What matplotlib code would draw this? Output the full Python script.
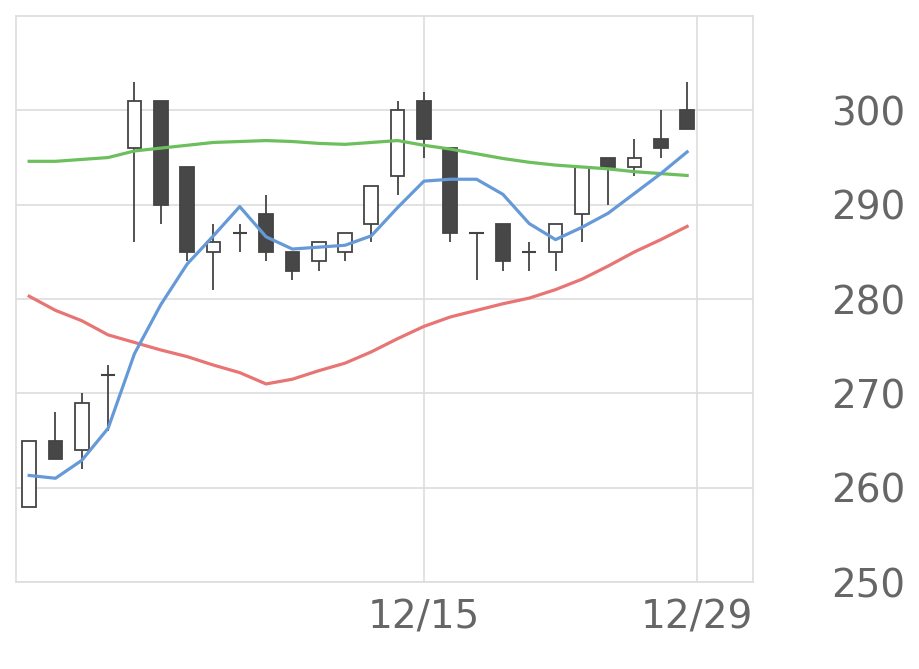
import matplotlib
matplotlib.use("Agg")
import matplotlib.pyplot as plt

opens  = [258,265,264,272,296,301,294,285,287,289,285,284,285,288,293,301,296,287,288,285,285,289,295,294,297,300]
closes = [265,263,269,272,301,290,285,286,287,285,283,286,287,292,300,297,287,287,284,285,288,294,294,295,296,298]
highs  = [265,268,270,273,303,301,294,288,288,291,285,286,287,292,301,302,296,287,288,286,288,294,295,297,300,303]
lows   = [258,263,262,266,286,288,284,281,285,284,282,283,284,286,291,295,286,282,283,283,283,286,290,293,295,298]
ma_short = [261.3,261,262.9,266.3,274.2,279.4,283.7,286.7,289.8,286.6,285.3,285.5,285.7,286.7,289.7,292.5,292.7,292.7,291.1,288,286.3,287.6,289.1,291.2,293.3,295.6]
ma_mid = [280.3,278.8,277.7,276.2,275.4,274.6,273.9,273,272.2,271,271.5,272.4,273.2,274.4,275.8,277.1,278.1,278.8,279.5,280.1,281,282.1,283.5,285,286.3,287.7]
ma_long = [294.6,294.6,294.8,295,295.7,296,296.3,296.6,296.7,296.8,296.7,296.5,296.4,296.6,296.8,296.3,295.9,295.4,294.9,294.5,294.2,294,293.8,293.5,293.3,293.1]
xtick_pos = [15, 25.36]
xtick_labels = ["12/15", "12/29"]
yticks = [250, 260, 270, 280, 290, 300]

fig = plt.figure(figsize=(9.2, 6.69), dpi=100)
ax = fig.add_axes([0.0174, 0.130, 0.801, 0.846])
x = list(range(len(opens)))
for i in x:
    o, c, h, l = opens[i], closes[i], highs[i], lows[i]
    ax.vlines(i, l, h, color="#444444", lw=1.3, zorder=2)
    lo, hi = min(o, c), max(o, c)
    fc = "white" if c >= o else "#474747"
    if hi - lo < 0.3:
        ax.hlines(o, i - 0.27, i + 0.27, color="#444444", lw=1.5, zorder=3)
    else:
        ax.bar(i, hi - lo, bottom=lo, width=0.52, facecolor=fc, edgecolor="#444444", lw=1.3, zorder=3)
ax.plot(x, ma_mid, color="#e87474", lw=2.3, zorder=4)
ax.plot(x, ma_long, color="#6cbf5c", lw=2.3, zorder=4)
ax.plot(x, ma_short, color="#6699d8", lw=2.3, zorder=4)

ax.set_xlim(-0.5, 27.5)
ax.set_ylim(250, 310)
ax.set_yticks(yticks)
ax.set_xticks(xtick_pos)
ax.set_xticklabels(xtick_labels)
ax.yaxis.tick_right()
ax.tick_params(axis="y", length=0, pad=56, labelsize=28, labelcolor="#666666")
ax.tick_params(axis="x", length=0, pad=12, labelsize=28, labelcolor="#666666")
for lab in ax.get_yticklabels():
    lab.set_horizontalalignment("left")
ax.grid(True, color="#dddddd", lw=1.2, zorder=0)
ax.set_axisbelow(True)
for s in ax.spines.values():
    s.set_color("#dddddd")
    s.set_linewidth(1.2)
fig.savefig("out.png", dpi=100)
